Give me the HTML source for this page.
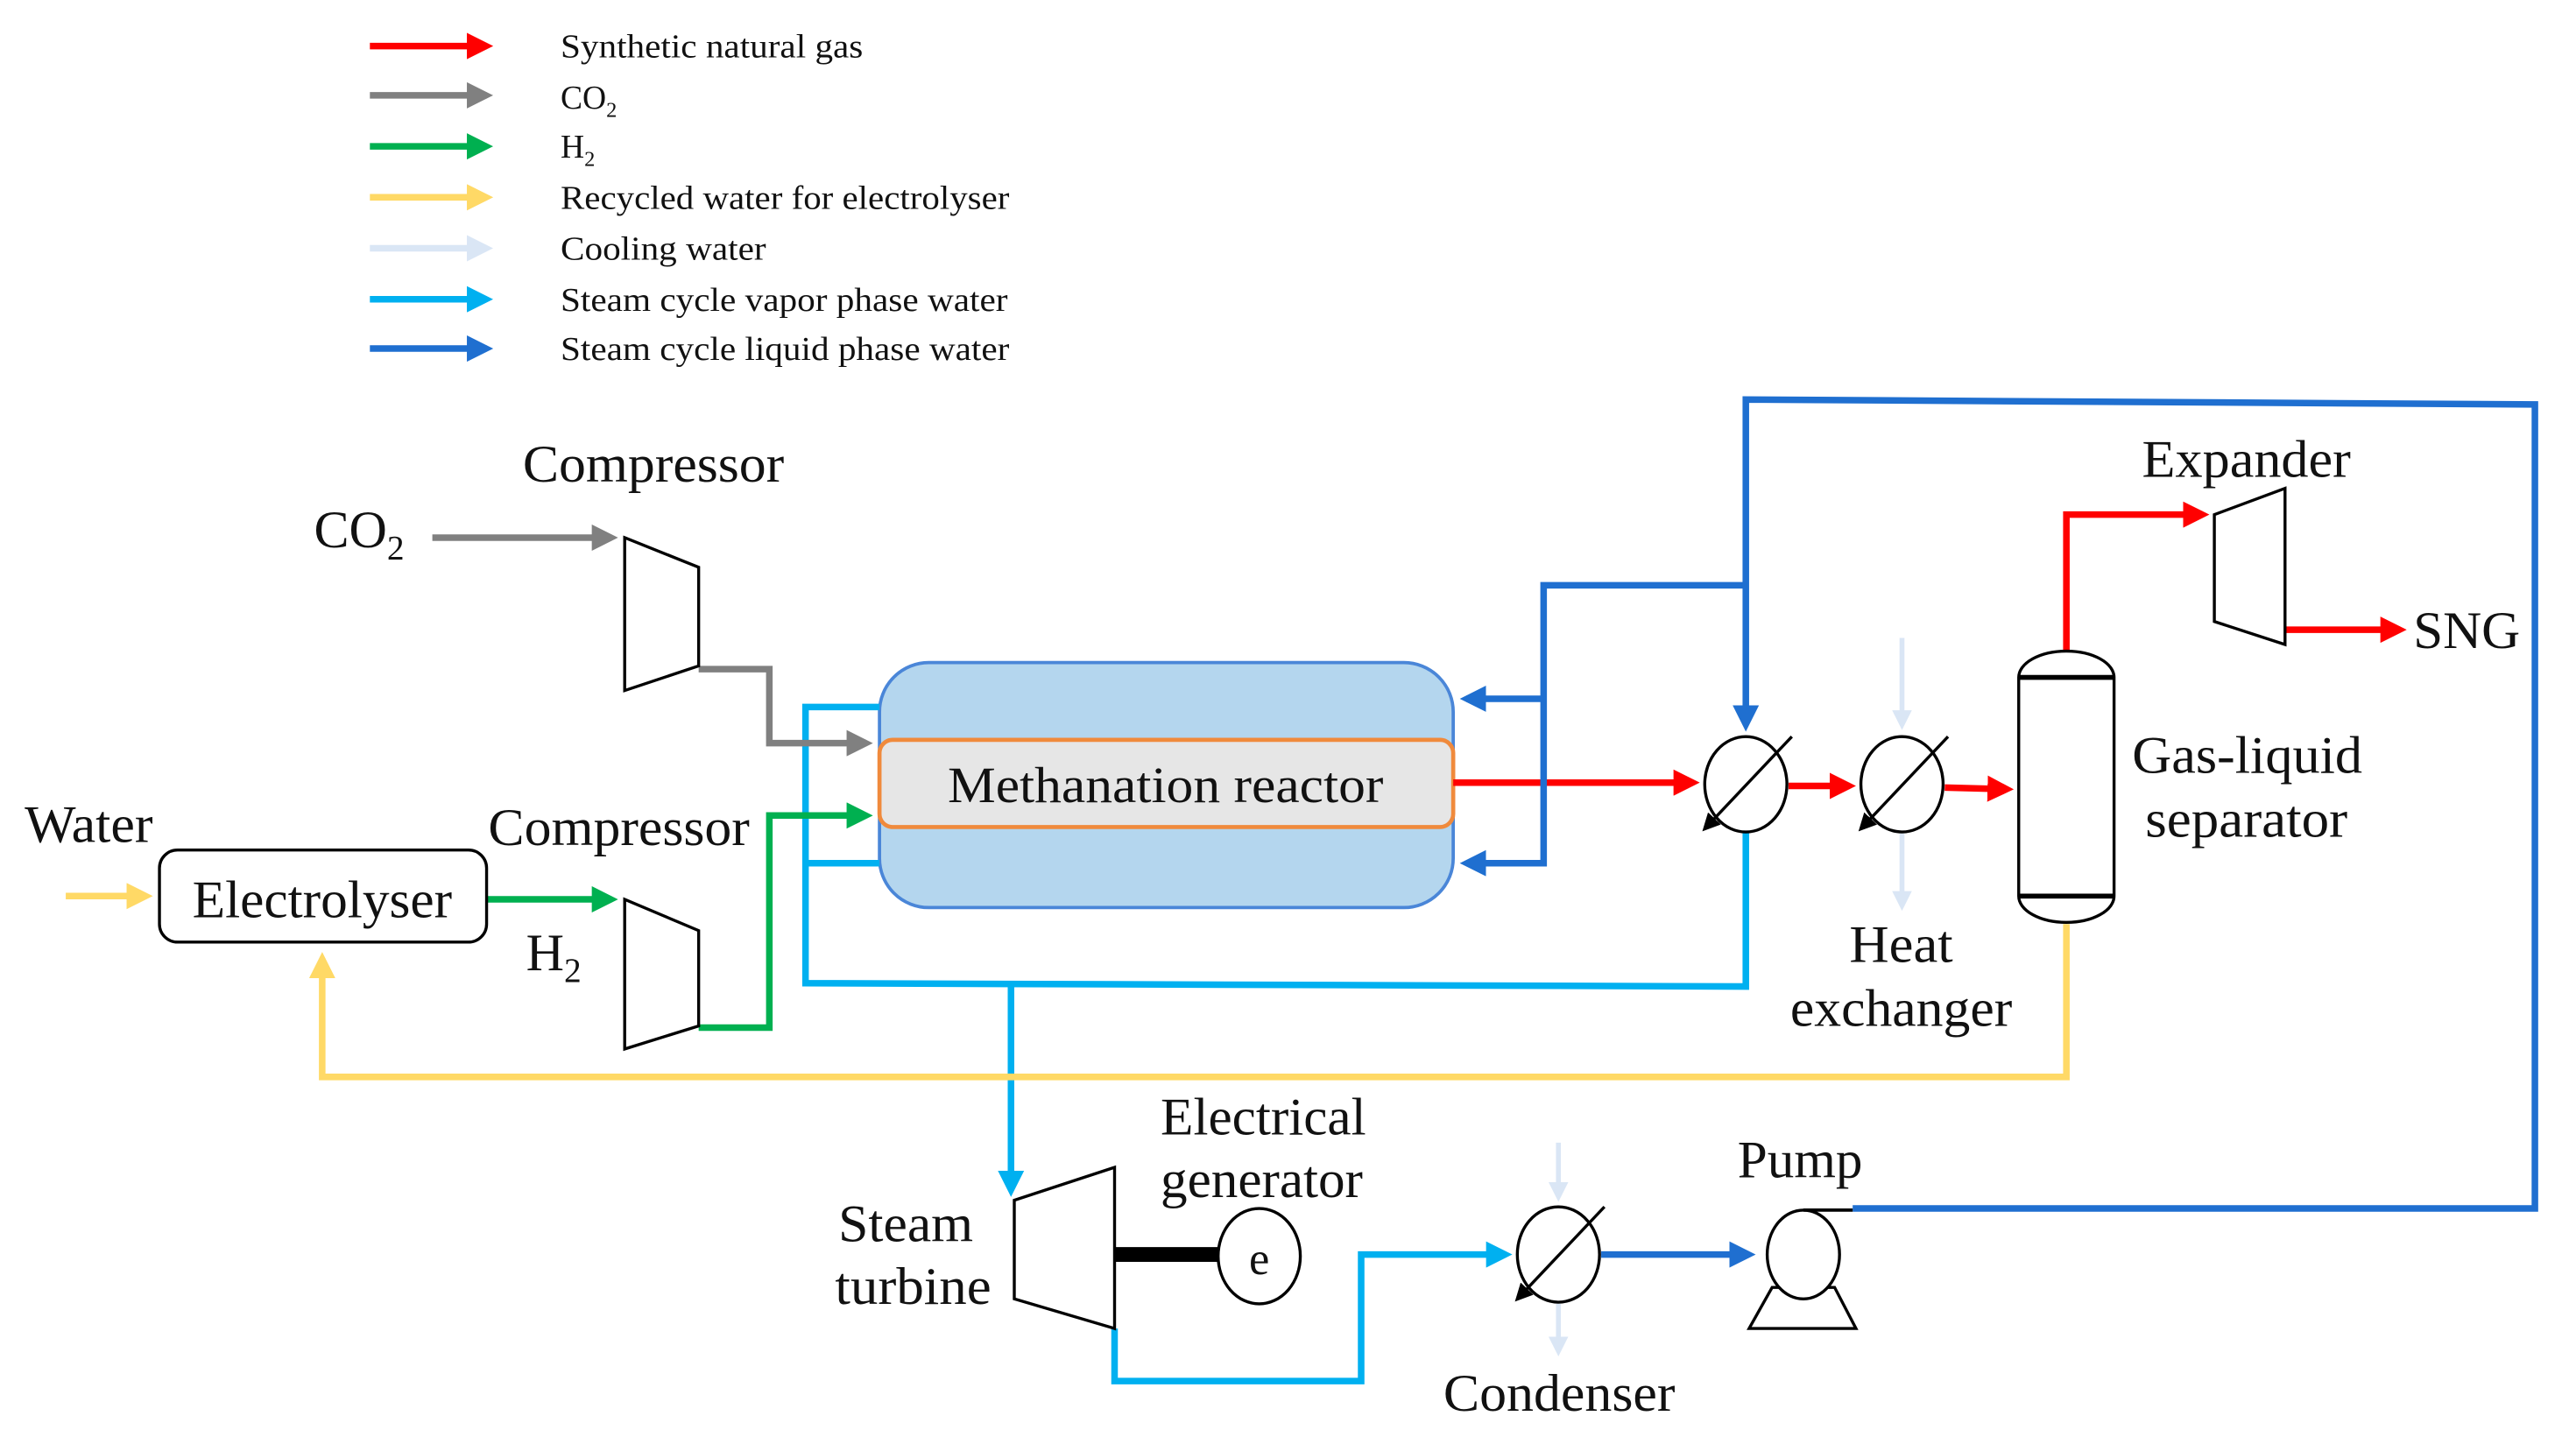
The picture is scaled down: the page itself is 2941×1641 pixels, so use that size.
<!DOCTYPE html>
<html><head><meta charset="utf-8"><style>
html,body{margin:0;padding:0;background:#fff;}
svg{display:block;}
text{font-family:"Liberation Serif",serif;fill:#111;}
</style></head><body>
<svg width="2941" height="1641" viewBox="0 0 1567 874" preserveAspectRatio="none" xmlns="http://www.w3.org/2000/svg">
<defs>
<marker id="aR" markerWidth="4" markerHeight="4" refX="3" refY="2" orient="auto" markerUnits="strokeWidth"><path d="M0,0L4,2L0,4z" fill="#ff0000"/></marker>
<marker id="aG" markerWidth="4" markerHeight="4" refX="3" refY="2" orient="auto" markerUnits="strokeWidth"><path d="M0,0L4,2L0,4z" fill="#808080"/></marker>
<marker id="aN" markerWidth="4" markerHeight="4" refX="3" refY="2" orient="auto" markerUnits="strokeWidth"><path d="M0,0L4,2L0,4z" fill="#00b050"/></marker>
<marker id="aY" markerWidth="4" markerHeight="4" refX="3" refY="2" orient="auto" markerUnits="strokeWidth"><path d="M0,0L4,2L0,4z" fill="#ffd966"/></marker>
<marker id="aC" markerWidth="4" markerHeight="4" refX="3" refY="2" orient="auto" markerUnits="strokeWidth"><path d="M0,0L4,2L0,4z" fill="#dae6f5"/></marker>
<marker id="aL" markerWidth="4" markerHeight="4" refX="3" refY="2" orient="auto" markerUnits="strokeWidth"><path d="M0,0L4,2L0,4z" fill="#00b0f0"/></marker>
<marker id="aD" markerWidth="4" markerHeight="4" refX="3" refY="2" orient="auto" markerUnits="strokeWidth"><path d="M0,0L4,2L0,4z" fill="#1f6fd0"/></marker>
<marker id="aK" markerWidth="6" markerHeight="6" refX="4" refY="3" orient="auto" markerUnits="strokeWidth"><path d="M0,0L6,3L0,6z" fill="#000"/></marker>
</defs>

<g stroke-width="4" fill="none">
<line x1="225" y1="28" x2="296" y2="28" stroke="#ff0000" marker-end="url(#aR)"/>
<line x1="225" y1="58" x2="296" y2="58" stroke="#808080" marker-end="url(#aG)"/>
<line x1="225" y1="89" x2="296" y2="89" stroke="#00b050" marker-end="url(#aN)"/>
<line x1="225" y1="120" x2="296" y2="120" stroke="#ffd966" marker-end="url(#aY)"/>
<line x1="225" y1="151" x2="296" y2="151" stroke="#dae6f5" marker-end="url(#aC)"/>
<line x1="225" y1="182" x2="296" y2="182" stroke="#00b0f0" marker-end="url(#aL)"/>
<line x1="225" y1="212" x2="296" y2="212" stroke="#1f6fd0" marker-end="url(#aD)"/>
</g>
<g font-size="20">
<text x="341" y="35" textLength="184" lengthAdjust="spacingAndGlyphs">Synthetic natural gas</text>
<text x="341" y="66">CO<tspan font-size="13" dy="5">2</tspan></text>
<text x="341" y="96">H<tspan font-size="13" dy="5">2</tspan></text>
<text x="341" y="127" textLength="273" lengthAdjust="spacingAndGlyphs">Recycled water for electrolyser</text>
<text x="341" y="158" textLength="125" lengthAdjust="spacingAndGlyphs">Cooling water</text>
<text x="341" y="189" textLength="272" lengthAdjust="spacingAndGlyphs">Steam cycle vapor phase water</text>
<text x="341" y="219" textLength="273" lengthAdjust="spacingAndGlyphs">Steam cycle liquid phase water</text>
</g>

<rect x="535" y="403" width="349" height="149" rx="30" fill="#b4d6ee" stroke="#4a86d8" stroke-width="2"/>

<g fill="none" stroke="#00b0f0" stroke-width="4">
<polyline points="535,430 490,430 490,598 1062,600 1062,506"/>
<line x1="490" y1="525" x2="535" y2="525"/>
<line x1="615" y1="598" x2="615" y2="724" marker-end="url(#aL)"/>
<polyline points="678,808 678,840 828,840 828,763 916,763" marker-end="url(#aL)"/>
</g>

<rect x="535" y="450" width="349" height="53" rx="8" fill="#e6e6e6" stroke="#f08a3c" stroke-width="2.5"/>
<text x="709" y="488" font-size="31" text-anchor="middle" textLength="265" lengthAdjust="spacingAndGlyphs">Methanation reactor</text>

<g fill="none" stroke="#808080" stroke-width="4">
<line x1="263" y1="327" x2="372" y2="327" marker-end="url(#aG)"/>
<polyline points="425,407 468,407 468,452 527,452" marker-end="url(#aG)"/>
</g>
<g fill="none" stroke="#00b050" stroke-width="4">
<line x1="296" y1="547" x2="372" y2="547" marker-end="url(#aN)"/>
<polyline points="425,625 468,625 468,496 527,496" marker-end="url(#aN)"/>
</g>
<g fill="none" stroke="#ffd966" stroke-width="4">
<line x1="40" y1="545" x2="89" y2="545" marker-end="url(#aY)"/>
<polyline points="1257,562 1257,655 196,655 196,583" marker-end="url(#aY)"/>
</g>
<g fill="none" stroke="#ff0000" stroke-width="4">
<line x1="884" y1="476" x2="1030" y2="476" marker-end="url(#aR)"/>
<line x1="1088" y1="478" x2="1125" y2="478" marker-end="url(#aR)"/>
<line x1="1183" y1="479" x2="1221" y2="480" marker-end="url(#aR)"/>
<polyline points="1257,397 1257,313 1340,313" marker-end="url(#aR)"/>
<line x1="1390" y1="383" x2="1460" y2="383" marker-end="url(#aR)"/>
</g>
<g fill="none" stroke="#dae6f5" stroke-width="3">
<line x1="1157" y1="388" x2="1157" y2="441" marker-end="url(#aC)"/>
<line x1="1157" y1="507" x2="1157" y2="551" marker-end="url(#aC)"/>
<line x1="948" y1="695" x2="948" y2="728" marker-end="url(#aC)"/>
<line x1="948" y1="793" x2="948" y2="822" marker-end="url(#aC)"/>
</g>
<g fill="none" stroke="#1f6fd0" stroke-width="4">
<polyline points="1127,735 1542,735 1542,246 1062,243 1062,441" marker-end="url(#aD)"/>
<polyline points="1062,356 939,356 939,525 892,525" marker-end="url(#aD)"/>
<line x1="939" y1="425" x2="892" y2="425" marker-end="url(#aD)"/>
<line x1="974" y1="763" x2="1064" y2="763" marker-end="url(#aD)"/>
</g>

<g fill="#fff" stroke="#000" stroke-width="1.8">
<polygon points="380,327 425,345 425,405 380,420"/>
<polygon points="380,547 425,566 425,624 380,638"/>
<rect x="97" y="517" width="199" height="56" rx="11"/>
<polygon points="1347,313 1390,297 1390,392 1347,378"/>
<polygon points="617,730 678,710 678,808 617,790"/>
<path d="M1228,412 A29,16 0 0 1 1286,412 L1286,545 A29,16 0 0 1 1228,545 Z"/>
<ellipse cx="1062" cy="477" rx="25" ry="29"/>
<ellipse cx="1157" cy="477" rx="25" ry="29"/>
<ellipse cx="948" cy="763" rx="25" ry="29"/>
<ellipse cx="766" cy="764" rx="25" ry="29"/>
<polygon points="1078,783 1064,808 1129,808 1116,783"/>
<ellipse cx="1097" cy="763" rx="22" ry="27"/>
</g>
<g stroke="#000" stroke-width="3">
<line x1="1228" y1="412" x2="1286" y2="412"/>
<line x1="1228" y1="545" x2="1286" y2="545"/>
<line x1="1097" y1="736" x2="1127" y2="736" stroke-width="2"/>
</g>
<g stroke="#000" stroke-width="1.8" fill="none">
<line x1="1090" y1="448" x2="1038" y2="503" marker-end="url(#aK)"/>
<line x1="1185" y1="448" x2="1133" y2="503" marker-end="url(#aK)"/>
<line x1="976" y1="734" x2="924" y2="789" marker-end="url(#aK)"/>
</g>
<line x1="678" y1="763" x2="741" y2="763" stroke="#000" stroke-width="9"/>
<text x="766" y="775" font-size="28" text-anchor="middle">e</text>

<g font-size="32">
<text x="318" y="293" textLength="159" lengthAdjust="spacingAndGlyphs">Compressor</text>
<text x="191" y="333">CO<tspan font-size="21" dy="7">2</tspan></text>
<text x="297" y="514" textLength="159" lengthAdjust="spacingAndGlyphs">Compressor</text>
<text x="320" y="590">H<tspan font-size="21" dy="7">2</tspan></text>
<text x="15" y="512" textLength="78" lengthAdjust="spacingAndGlyphs">Water</text>
<text x="196" y="558" text-anchor="middle" textLength="158" lengthAdjust="spacingAndGlyphs">Electrolyser</text>
<text x="1303" y="290" textLength="127" lengthAdjust="spacingAndGlyphs">Expander</text>
<text x="1468" y="394" textLength="65" lengthAdjust="spacingAndGlyphs">SNG</text>
<text x="1297" y="470" textLength="140" lengthAdjust="spacingAndGlyphs">Gas-liquid</text>
<text x="1305" y="509" textLength="123" lengthAdjust="spacingAndGlyphs">separator</text>
<text x="1125" y="585" textLength="63" lengthAdjust="spacingAndGlyphs">Heat</text>
<text x="1089" y="624" textLength="135" lengthAdjust="spacingAndGlyphs">exchanger</text>
<text x="706" y="690" textLength="125" lengthAdjust="spacingAndGlyphs">Electrical</text>
<text x="706" y="728" textLength="123" lengthAdjust="spacingAndGlyphs">generator</text>
<text x="510" y="755" textLength="82" lengthAdjust="spacingAndGlyphs">Steam</text>
<text x="508" y="793" textLength="95" lengthAdjust="spacingAndGlyphs">turbine</text>
<text x="1057" y="716" textLength="76" lengthAdjust="spacingAndGlyphs">Pump</text>
<text x="878" y="858" textLength="141" lengthAdjust="spacingAndGlyphs">Condenser</text>
</g>
</svg>
</body></html>
